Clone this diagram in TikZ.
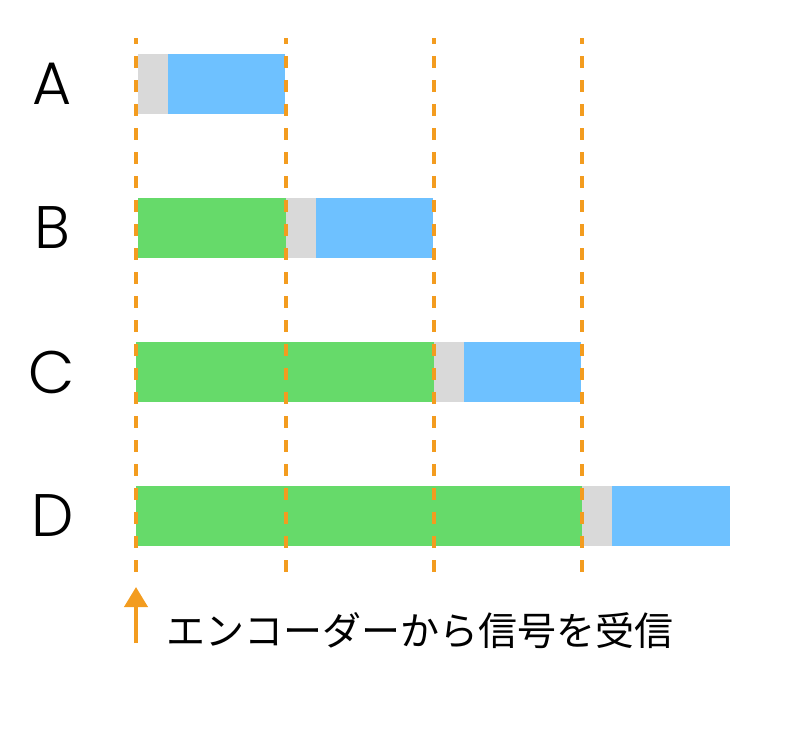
\documentclass[tikz,border=0pt]{standalone}
\usepackage{fontspec}
\newfontfamily\labelfont{Poppins}[UprightFont=* Light]
\newfontfamily\jpfont{Noto Sans CJK JP}
\usetikzlibrary{arrows.meta}
\definecolor{sigorange}{RGB}{243,156,31}
\definecolor{encgreen}{RGB}{102,218,106}
\definecolor{gapgray}{RGB}{217,217,217}
\definecolor{decblue}{RGB}{110,193,255}

\begin{document}
\begin{tikzpicture}[x=1pt,y=-1pt,
  every node/.style={inner sep=0pt,outer sep=0pt},
  bar/.style={rectangle,anchor=west,minimum height=60pt}]
  \tikzstyle{enc} = [bar,fill=encgreen]
  \tikzstyle{gap} = [bar,fill=gapgray]
  \tikzstyle{dec} = [bar,fill=decblue]
  \tikzstyle{row} = [font=\labelfont\fontsize{60}{62}\selectfont,color=black]
  \tikzstyle{guide} = [draw=sigorange,line width=3.5pt,dash pattern=on 12pt off 12pt,dash phase=6pt]
  \useasboundingbox (0,0) rectangle (794,742);
  % row labels
  \node (A) [row] at (52,84) {A};
  \node (B) [row] at (52,228) {B};
  \node (C) [row] at (52,372) {C};
  \node (D) [row] at (53,516) {D};
  % bars
  \node (A_gap) [gap,minimum width=30pt] at (138,84) {};
  \node (A_dec) [dec,minimum width=117pt] at (A_gap.east) {};
  \node (B_enc) [enc,minimum width=148pt] at (138,228) {};
  \node (B_gap) [gap,minimum width=30pt] at (B_enc.east) {};
  \node (B_dec) [dec,minimum width=117pt] at (B_gap.east) {};
  \node (C_enc) [enc,minimum width=298pt] at (136,372) {};
  \node (C_gap) [gap,minimum width=30pt] at (C_enc.east) {};
  \node (C_dec) [dec,minimum width=117pt] at (C_gap.east) {};
  \node (D_enc) [enc,minimum width=446pt] at (136,516) {};
  \node (D_gap) [gap,minimum width=30pt] at (D_enc.east) {};
  \node (D_dec) [dec,minimum width=118pt] at (D_gap.east) {};
  % time marks
  \foreach \x [count=\i] in {136,286,434,582} {
    \coordinate (top\i) at (\x,38);
    \coordinate (bot\i) at (\x,572);
    \draw[guide] (top\i) -- (bot\i);
  }
  % signal
  \coordinate (sig_tail) at (136,643);
  \coordinate (sig_tip) at (136,587);
  \draw[-{Triangle[width=23pt,length=20pt]},draw=sigorange,fill=sigorange,line width=4pt] (sig_tail) -- (sig_tip);
  \node (sig) [anchor=west,font=\jpfont\fontsize{39}{42}\selectfont] at (166,631) {エンコーダーから信号を受信};
\end{tikzpicture}
\end{document}
